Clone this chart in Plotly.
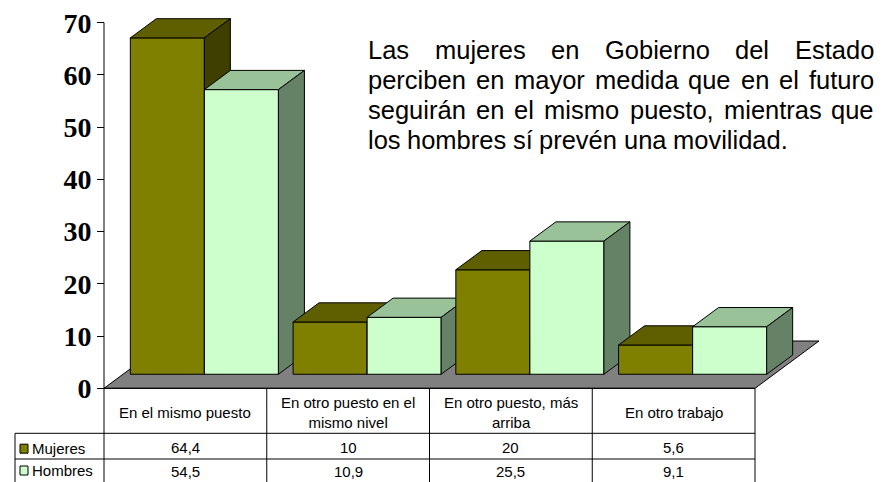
import plotly.graph_objects as go

# ---- data -------------------------------------------------------------
categories = ["En el mismo puesto",
              "En otro puesto en el<br>mismo nivel",
              "En otro puesto, más<br>arriba",
              "En otro trabajo"]
series_names = ["Mujeres", "Hombres"]
mujeres = [64.4, 10, 20, 5.6]
hombres = [54.5, 10.9, 25.5, 9.1]
value_ticks = [0, 10, 20, 30, 40, 50, 60, 70]

note_lines = ["Las mujeres en Gobierno del Estado",
              "perciben en mayor medida que en el futuro",
              "seguirán en el mismo puesto, mientras que",
              "los hombres sí prevén una movilidad."]

# ---- styling ----------------------------------------------------------
W, H = 888, 482
X0_PX, CAT_PX = 104.0, 162.75        # left edge of category band, width per category
Y0_PX, UNIT_PX = 388.3, 5.2229       # screen row of value 0, pixels per unit
SANS = "Liberation Sans, Arial, sans-serif"
SERIF = "Liberation Serif, Times New Roman, serif"

colors = {
    "Mujeres": {"front": "#808000", "top": "#5f5f00", "side": "#3f3f00"},
    "Hombres": {"front": "#ccffcc", "top": "#99c299", "side": "#668266"},
}

x_range = [-X0_PX / CAT_PX, (W - X0_PX) / CAT_PX]
y_range = [(Y0_PX - H) / UNIT_PX, Y0_PX / UNIT_PX]

# oblique depth vector of the floor, in axis units
DX = 64.0 / CAT_PX
DY = 47.3 / UNIT_PX
F_FRONT, F_BACK = 0.297, 0.703       # bar front/back planes as a fraction of floor depth
BAR_SPAN = [(0.045, 0.5), (0.5, 0.955)]


def px(xp):
    return xp / W


def py(yp):
    return 1 - yp / H


fig = go.Figure()


def poly(xs, ys, fill):
    fig.add_trace(go.Scatter(
        x=xs + [xs[0]], y=ys + [ys[0]], mode="lines", fill="toself",
        fillcolor=fill, line=dict(color="black", width=1),
        hoverinfo="skip", showlegend=False))


# floor
n = len(categories)
poly([0, n, n + DX, DX], [0, 0, DY, DY], "#808080")

# 3D columns
fx0, fy0 = F_FRONT * DX, F_FRONT * DY
fx1, fy1 = F_BACK * DX, F_BACK * DY
for k in range(n):
    for (a_off, b_off), name, vals in zip(BAR_SPAN, series_names, [mujeres, hombres]):
        v = vals[k]
        a, b = k + a_off, k + b_off
        c = colors[name]
        # front face
        poly([a + fx0, b + fx0, b + fx0, a + fx0],
             [fy0, fy0, v + fy0, v + fy0], c["front"])
        # top face
        poly([a + fx0, b + fx0, b + fx1, a + fx1],
             [v + fy0, v + fy0, v + fy1, v + fy1], c["top"])
        # right side face
        poly([b + fx0, b + fx1, b + fx1, b + fx0],
             [fy0, fy1, v + fy1, v + fy0], c["side"])

shapes = []
annotations = []

# value axis line, continuing down as the table's left border
shapes.append(dict(type="line", xref="x", yref="y", x0=0, x1=0,
                   y0=value_ticks[-1], y1=y_range[0],
                   line=dict(color="black", width=1)))

# ---- data table -------------------------------------------------------
ROW_TOP, ROW_1, ROW_2, ROW_END = 388.3, 433.3, 459.0, 482.0
LEFT_PX = 15.0


def hline(x0, x1, yp, xref="x"):
    shapes.append(dict(type="line", xref=xref, yref="paper", x0=x0, x1=x1,
                       y0=py(yp), y1=py(yp), line=dict(color="black", width=1)))


def vline(x, y0p, y1p, xref="x"):
    shapes.append(dict(type="line", xref=xref, yref="paper", x0=x, x1=x,
                       y0=py(y0p), y1=py(y1p), line=dict(color="black", width=1)))


hline(0, n, ROW_TOP)
for yrow in (ROW_1, ROW_2):
    shapes.append(dict(type="line", xref="paper", yref="paper",
                       x0=px(LEFT_PX), x1=px(X0_PX + n * CAT_PX),
                       y0=py(yrow), y1=py(yrow),
                       line=dict(color="black", width=1)))
for k in range(1, n + 1):
    vline(k, ROW_TOP, ROW_END + 2)
vline(px(LEFT_PX), ROW_1, ROW_END + 2, xref="paper")


def fmt(v):
    return f"{v:g}".replace(".", ",")


for k, cat in enumerate(categories):
    annotations.append(dict(x=k + 0.5, y=py(412.2), xref="x", yref="paper",
                            text=cat, showarrow=False, xanchor="center",
                            yanchor="middle",
                            font=dict(family=SANS, size=15, color="black")))
    for vals, yc in ((mujeres, 447.7), (hombres, 471.7)):
        annotations.append(dict(x=k + 0.5, y=py(yc), xref="x", yref="paper",
                                text=fmt(vals[k]), showarrow=False,
                                xanchor="center", yanchor="middle",
                                font=dict(family=SANS, size=15, color="black")))

# legend keys in the table
for name, yc in zip(series_names, (448.7, 470.5)):
    shapes.append(dict(type="rect", xref="paper", yref="paper",
                       x0=px(20), x1=px(28), y0=py(yc - 4.5), y1=py(yc + 4.5),
                       fillcolor=colors[name]["front"],
                       line=dict(color="black", width=1)))
    annotations.append(dict(x=px(30), y=py(yc - 0.5), xref="paper", yref="paper",
                            text=name, showarrow=False, xanchor="left",
                            yanchor="middle",
                            font=dict(family=SANS, size=15, color="black")))

# ---- justified note ---------------------------------------------------
ARIAL_W = {" ": 278, ",": 278, ".": 278, "a": 556, "b": 556, "c": 500,
           "d": 556, "e": 556, "f": 278, "g": 556, "h": 556, "i": 222,
           "j": 222, "k": 500, "l": 222, "m": 833, "n": 556, "o": 556,
           "p": 556, "q": 556, "r": 333, "s": 500, "t": 278, "u": 556,
           "v": 500, "w": 722, "x": 500, "y": 500, "z": 500, "E": 667,
           "G": 778, "L": 556, "á": 556, "é": 556, "í": 278}
NOTE_SIZE = 25.5
NOTE_LEFT = 367.0
NOTE_RIGHTS = [873.0, 873.0, 873.0, 787.0]
NOTE_BASE = [59.3, 89.3, 119.3, 149.3]


def text_w(s, size):
    return sum(ARIAL_W.get(ch, 556) for ch in s) * size / 1000.0


for line, right, base in zip(note_lines, NOTE_RIGHTS, NOTE_BASE):
    words = line.split(" ")
    total = sum(text_w(w, NOTE_SIZE) for w in words)
    gap = (right - NOTE_LEFT - total) / (len(words) - 1)
    xcur = NOTE_LEFT
    for w in words:
        annotations.append(dict(x=px(xcur), y=py(base - 0.36 * NOTE_SIZE),
                                xref="paper", yref="paper", text=w,
                                showarrow=False, xanchor="left",
                                yanchor="middle", borderpad=0,
                                font=dict(family=SANS, size=NOTE_SIZE,
                                          color="black")))
        xcur += text_w(w, NOTE_SIZE) + gap

fig.update_layout(
    width=W, height=H, autosize=False,
    margin=dict(l=0, r=0, t=0, b=0, pad=0),
    paper_bgcolor="white", plot_bgcolor="white",
    showlegend=False,
    xaxis=dict(range=x_range, domain=[0, 1], visible=False, fixedrange=True),
    yaxis=dict(range=y_range, domain=[0, 1], fixedrange=True,
               anchor="free", position=px(X0_PX),
               tickvals=value_ticks, ticks="outside", ticklen=7,
               tickcolor="black", tickwidth=1, showline=False,
               showgrid=False, zeroline=False, automargin=False,
               tickfont=dict(family=SERIF, size=28, color="black",
                             weight="bold")),
    shapes=shapes,
    annotations=annotations,
)

fig.write_html("out.html", config={"displayModeBar": False})
